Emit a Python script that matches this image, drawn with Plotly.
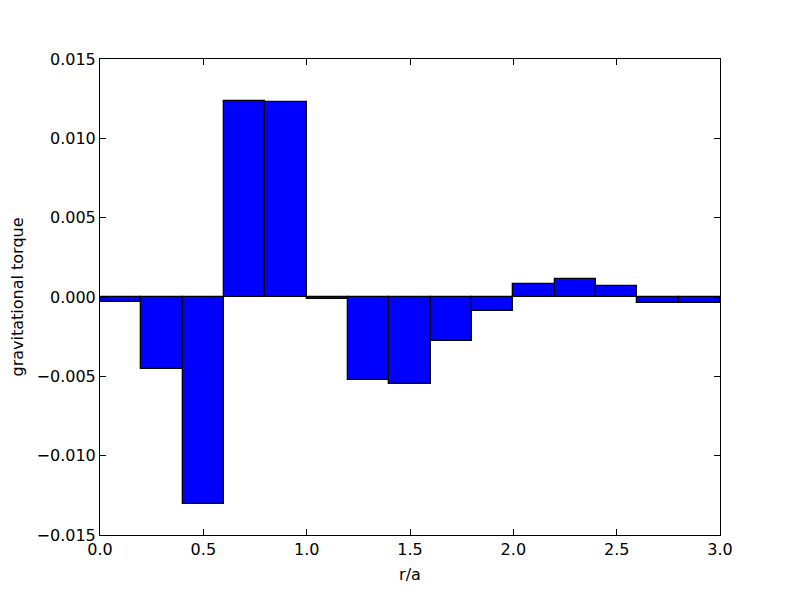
import plotly.graph_objects as go

# bin left edges (r/a) and the torque in each bin
r_left = [0.0, 0.2, 0.4, 0.6, 0.8, 1.0, 1.2, 1.4, 1.6, 1.8, 2.0, 2.2, 2.4, 2.6, 2.8]
torque = [-0.00034, -0.00455, -0.01305, 0.01233, 0.01228, -0.00015, -0.0052,
          -0.00548, -0.0028, -0.00088, 0.00083, 0.00114, 0.0007, -0.00036, -0.00036]
bin_width = 0.2

x_ticks = [0.0, 0.5, 1.0, 1.5, 2.0, 2.5, 3.0]
y_ticks = [-0.015, -0.010, -0.005, 0.0, 0.005, 0.010, 0.015]

fig = go.Figure()
fig.add_trace(go.Bar(
    x=r_left,
    y=torque,
    width=bin_width,
    offset=0,
    marker=dict(color="#0000ff", line=dict(color="black", width=1.3)),
))

axis_style = dict(
    showline=True,
    linecolor="black",
    linewidth=1,
    mirror="ticks",
    ticks="inside",
    ticklen=6,
    tickcolor="black",
    showgrid=False,
    zeroline=False,
    tickfont=dict(size=16, color="black"),
    title_font=dict(size=16, color="black"),
)

fig.update_xaxes(
    range=[0, 3],
    tickmode="array",
    tickvals=x_ticks,
    ticktext=[f"{v:.1f}" for v in x_ticks],
    title_text="r/a",
    title_standoff=10,
    **axis_style,
)
fig.update_yaxes(
    range=[-0.015, 0.015],
    tickmode="array",
    tickvals=y_ticks,
    ticktext=[f"{v:.3f}".replace("-", "\u2212") for v in y_ticks],
    title_text="gravitational torque",
    title_standoff=10,
    **axis_style,
)

# page has an 8px body margin, so the margins are trimmed to keep the axes in place
fig.update_layout(
    template="none",
    width=800,
    height=595,
    margin=dict(l=92, r=88, t=51, b=68),
    paper_bgcolor="white",
    plot_bgcolor="white",
    font=dict(family="DejaVu Sans", size=16, color="black"),
    showlegend=False,
    bargap=0,
)

fig.write_html("out.html")
